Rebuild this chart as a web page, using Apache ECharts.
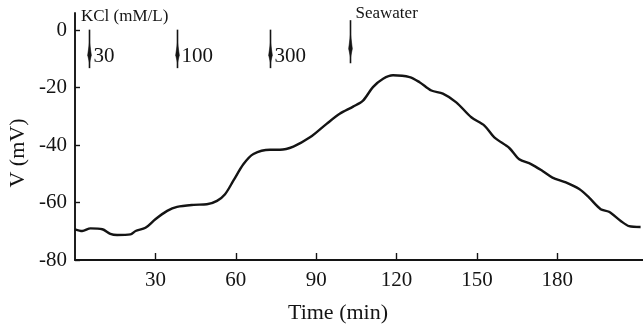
<!DOCTYPE html>
<html>
<head>
<meta charset="utf-8">
<script src="https://cdn.jsdelivr.net/npm/echarts@6/dist/echarts.min.js"></script>
<style>
  html, body { margin: 0; padding: 0; background: #ffffff; }
  #chart { width: 643px; height: 326px; }
</style>
</head>
<body>
<div id="chart"></div>
<script>
// Membrane potential trace (mV) against time (min)
const timeMin = [0, 2.7, 5.8, 10.2, 13.2, 15.7, 20.7, 22.6, 26.3, 30.0, 34.4, 38.1, 44.3, 49.2, 53.0,
  56.0, 59.1, 62.9, 66.6, 72.8, 76.5, 81.5, 87.7, 93.9, 98.8, 103.8, 107.5, 111.2, 115.0, 118.7,
  124.9, 128.6, 133.0, 137.3, 142.3, 147.9, 152.8, 156.5, 162.1, 165.8, 170.2, 174.5, 178.2,
  183.2, 188.2, 191.9, 196.2, 199.3, 203.7, 206.8, 211.1];
const voltage = [-69.3, -69.9, -69.0, -69.3, -70.9, -71.3, -71.1, -69.9, -68.8, -65.8, -62.9, -61.5,
  -60.8, -60.6, -59.4, -57.1, -52.4, -46.6, -43.1, -41.6, -41.6, -40.5, -37.3, -32.6, -29.1, -26.6,
  -24.5, -19.8, -16.9, -15.7, -16.3, -18.1, -21.0, -22.1, -25.1, -30.3, -33.2, -37.3, -41.0, -44.9,
  -46.6, -49.0, -51.3, -53.0, -55.3, -58.3, -62.3, -63.2, -66.4, -68.2, -68.5];

// Axis ticks
const xTicks = [30, 60, 90, 120, 150, 180];
const yTicks = [-80, -60, -40, -20, 0];

// Additions: KCl doses (mM/L) and the switch to seawater
const kclDoses = ['30', '100', '300'];
const kclTimes = [5.4, 38.0, 72.8];
const seawaterTime = 102.6;
const seawaterLabel = 'Seawater';

const ink = '#141414';
const serif = '"Liberation Serif", "DejaVu Serif", serif';

const points = timeMin.map((t, i) => [t, voltage[i]]);
const markers = kclTimes.map((t, i) => [t, 0, kclDoses[i]]).concat([[seawaterTime, 0, seawaterLabel]]);

// Vertical arrow with a long, narrow head, plus its label
function renderArrow(params, api) {
  const t = api.value(0);
  const isSea = params.dataIndex === kclTimes.length;
  const label = markers[params.dataIndex][2];
  const top = api.coord([t, isSea ? 3.5 : 0.2]);
  const bot = api.coord([t, isSea ? -11.5 : -13.2]);
  const x = Math.round(top[0]) + 0.5;
  const y0 = top[1], y1 = bot[1], len = y1 - y0;
  const headTop = y0 + 0.34 * len;
  const headTip = y0 + 0.86 * len;
  const headMid = headTop + 0.62 * (headTip - headTop);
  const children = [
    { type: 'line', shape: { x1: x, y1: y0, x2: x, y2: y1 }, style: { stroke: ink, lineWidth: 1.6 } },
    { type: 'polygon', shape: { points: [[x, headTop], [x + 1.9, headMid], [x, headTip], [x - 1.9, headMid]] },
      style: { fill: ink, stroke: ink, lineWidth: 0.5 } }
  ];
  if (isSea) {
    children.push({ type: 'text', style: { text: label, x: x + 5, y: y0 - 7, font: '17px ' + serif,
      fill: ink, verticalAlign: 'middle', align: 'left' } });
  } else {
    const ly = api.coord([t, -9])[1];
    children.push({ type: 'text', style: { text: label, x: x + 4, y: ly, font: '21px ' + serif,
      fill: ink, verticalAlign: 'middle', align: 'left' } });
  }
  return { type: 'group', children };
}

const chart = echarts.init(document.getElementById('chart'), null, { renderer: 'canvas' });
chart.setOption({
  animation: false,
  backgroundColor: '#ffffff',
  grid: { left: 75, right: 0, top: 13, bottom: 66, containLabel: false },
  xAxis: {
    type: 'value', min: 0, max: 212, interval: 30,
    axisLine: { onZero: false, lineStyle: { color: ink, width: 1.9 } },
    axisTick: { inside: true, length: 7, customValues: xTicks, lineStyle: { color: ink, width: 1.4 } },
    axisLabel: { customValues: xTicks, margin: 10, color: ink, fontFamily: serif, fontSize: 21 },
    splitLine: { show: false }
  },
  yAxis: {
    type: 'value', min: -80, max: 6, interval: 20,
    axisLine: { onZero: false, lineStyle: { color: ink, width: 1.9 } },
    axisTick: { inside: true, length: 5, customValues: yTicks, lineStyle: { color: ink, width: 1.4 } },
    axisLabel: { customValues: yTicks, margin: 8, color: ink, fontFamily: serif, fontSize: 21,
      formatter: v => (yTicks.indexOf(v) >= 0 ? String(v) : '') },
    splitLine: { show: false }
  },
  graphic: [
    { type: 'text', left: 81, top: 8, style: { text: 'KCl (mM/L)', font: '17px ' + serif, fill: ink } },
    { type: 'text', x: 338, y: 313, style: { text: 'Time (min)', font: '22px ' + serif, fill: ink,
      align: 'center', verticalAlign: 'middle' } },
    { type: 'text', x: 18, y: 153, rotation: Math.PI / 2, style: { text: 'V (mV)', font: '22px ' + serif,
      fill: ink, align: 'center', verticalAlign: 'middle' } }
  ],
  series: [
    {
      type: 'line', data: points, smooth: 0.3, showSymbol: false, symbol: 'none', clip: false,
      lineStyle: { color: ink, width: 2.4 }
    },
    {
      type: 'custom', data: markers, renderItem: renderArrow, encode: { x: 0, y: 1 }, clip: false, silent: true
    }
  ]
});
</script>
</body>
</html>
